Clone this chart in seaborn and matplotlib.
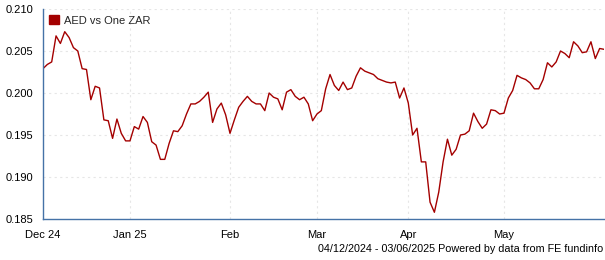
import matplotlib
matplotlib.use("Agg")
import matplotlib.pyplot as plt
import seaborn as sns
import pandas as pd
import numpy as np
from matplotlib.patches import Patch

# ---- data (business-day series, 04/12/2024 - 03/06/2025) ----
values = [
    0.2029, 0.2034, 0.2037, 0.2068, 0.2059, 0.2073, 0.2066, 0.2054, 0.2050, 0.2029,
    0.2028, 0.1992, 0.2008, 0.2006, 0.1968, 0.1967, 0.1946, 0.1969, 0.1952, 0.1943,
    0.1943, 0.1960, 0.1957, 0.1972, 0.1965, 0.1942, 0.1938, 0.1921, 0.1921, 0.1940,
    0.1955, 0.1954, 0.1961, 0.1975, 0.1987, 0.1987, 0.1990, 0.1995, 0.2001, 0.1965,
    0.1981, 0.1988, 0.1974, 0.1952, 0.1968, 0.1983, 0.1990, 0.1996, 0.1990, 0.1987,
    0.1987, 0.1979, 0.2000, 0.1995, 0.1993, 0.1980, 0.2001, 0.2004, 0.1996, 0.1992,
    0.1995, 0.1987, 0.1967, 0.1975, 0.1979, 0.2005, 0.2022, 0.2009, 0.2003, 0.2013,
    0.2004, 0.2006, 0.2020, 0.2030, 0.2026, 0.2024, 0.2022, 0.2017, 0.2015, 0.2013,
    0.2012, 0.2013, 0.1994, 0.2006, 0.1988, 0.1950, 0.1958, 0.1918, 0.1918, 0.1870,
    0.1858, 0.1882, 0.1918, 0.1945, 0.1926, 0.1933, 0.1950, 0.1951, 0.1955, 0.1976,
    0.1966, 0.1958, 0.1963, 0.1980, 0.1979, 0.1975, 0.1976, 0.1994, 0.2003, 0.2021,
    0.2018, 0.2016, 0.2012, 0.2005, 0.2005, 0.2016, 0.2036, 0.2031, 0.2037, 0.2050,
    0.2047, 0.2042, 0.2061, 0.2056, 0.2048, 0.2049, 0.2061, 0.2041, 0.2053, 0.2052,
]
tick_positions = [0, 20, 43, 63, 84, 106, 128]
tick_labels = ["Dec 24", "Jan 25", "Feb", "Mar", "Apr", "May", ""]
y_ticks = [0.185, 0.190, 0.195, 0.200, 0.205, 0.210]
series_name = "AED vs One ZAR"
footer = "04/12/2024 - 03/06/2025 Powered by data from FE fundinfo"

df = pd.DataFrame({"day": np.arange(len(values)), "value": values})

sns.set_theme(style="white")
plt.rcParams["font.family"] = ["Liberation Sans", "DejaVu Sans"]

line_color = "#A40000"
axis_color = "#4572A7"
grid_color = "#E6E6E6"

fig = plt.figure(figsize=(6.05, 2.6), dpi=100)
ax = fig.add_axes([43 / 605, 41 / 260, 561 / 605, 210 / 260])

sns.lineplot(data=df, x="day", y="value", ax=ax, color=line_color, linewidth=1.0)

ax.set_xlim(0, len(values) - 1)
ax.set_ylim(0.185, 0.210)
ax.set_yticks(y_ticks)
ax.set_yticklabels([f"{v:.3f}" for v in y_ticks])
ax.set_xticks(tick_positions)
ax.set_xticklabels(tick_labels)
ax.set_xlabel("")
ax.set_ylabel("")

for v in y_ticks[1:]:
    ax.axhline(v, color=grid_color, linestyle=(0, (2, 3)), linewidth=0.8, zorder=0)
for p in tick_positions[1:-1]:
    ax.axvline(p, color=grid_color, linestyle=(0, (2, 3)), linewidth=0.8, zorder=0)

for side in ["top", "right"]:
    ax.spines[side].set_visible(False)
for side in ["left", "bottom"]:
    ax.spines[side].set_color(axis_color)
    ax.spines[side].set_linewidth(1.0)

ax.tick_params(axis="both", which="major", direction="out", length=5, width=1,
               color=axis_color, labelsize=8, labelcolor="#000000", pad=2)
ax.tick_params(axis="x", pad=3)

leg = ax.legend(handles=[Patch(facecolor=line_color, edgecolor=line_color)],
                labels=[series_name], loc="upper left", frameon=False,
                fontsize=8, handlelength=0.9, handleheight=0.9,
                handletextpad=0.4, borderaxespad=0.15, bbox_to_anchor=(0.0, 1.0))

fig.text(603 / 605, 1 - 248.5 / 260, footer, ha="right", va="center",
         fontsize=7.75, color="#000000")

fig.savefig("out.png", dpi=100)
